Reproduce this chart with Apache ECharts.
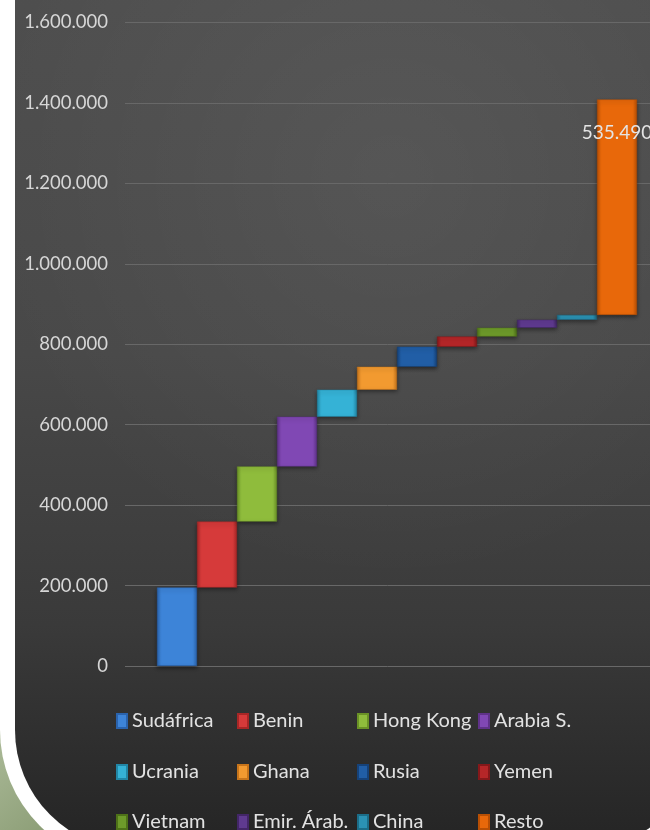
<!DOCTYPE html>
<html>
<head>
<meta charset="utf-8">
<script src="https://cdn.jsdelivr.net/npm/echarts@6/dist/echarts.min.js"></script>
<style>
html,body{margin:0;padding:0;background:#fff;}
#c{width:650px;height:830px;}
</style>
</head>
<body>
<div id="c"></div>
<script>
// ---- data ----
var categories = ['Sudáfrica','Benin','Hong Kong','Arabia S.','Ucrania','Ghana','Rusia','Yemen','Vietnam','Emir. Árab.','China','Resto'];
var values = [195000,164000,137000,124000,67000,57000,50000,25000,22000,20000,12000,535490];
var yTicks = [0,200000,400000,600000,800000,1000000,1200000,1400000,1600000];
var labelledCategory = 'Resto';

// ---- styles ----
var baseColors = ['#3d84d8','#d63a3a','#8fbc3c','#8048b4','#35b2d6','#f29a30','#215ea6','#b52628','#6d9a2a','#5f3a90','#2b92b4','#e8680a'];
var darkColors = ['#2a63ad','#a82626','#6a9226','#5f3289','#2186a6','#c7741a','#15427a','#85181a','#4e7218','#432668','#1b6d88','#b84f04'];

function fmt(v){ return String(v).replace(/\B(?=(\d{3})+(?!\d))/g,'.'); }

var chart = echarts.init(document.getElementById('c'), null, {renderer:'canvas'});

// waterfall base values (sum of preceding contributions)
var bases = [];
var acc = 0;
for (var i=0;i<values.length;i++){ bases.push(acc); acc += values[i]; }

var series = [{
  name:'base', type:'bar', stack:'w', xAxisIndex:1, yAxisIndex:1,
  data: bases, itemStyle:{color:'rgba(0,0,0,0)'}, silent:true,
  barCategoryGap:'0%', emphasis:{disabled:true}
}];
categories.forEach(function(name,i){
  series.push({
    name:name, type:'bar', stack:'w', xAxisIndex:1, yAxisIndex:1,
    barCategoryGap:'0%',
    data: categories.map(function(c,j){ return j===i ? values[i] : '-'; }),
    itemStyle:{
      color: new echarts.graphic.LinearGradient(0,0,1,0,[
        {offset:0,color:darkColors[i]},
        {offset:0.1,color:baseColors[i]},
        {offset:0.9,color:baseColors[i]},
        {offset:1,color:darkColors[i]}
      ]),
      borderColor: darkColors[i], borderWidth:0.5,
      shadowBlur:4, shadowColor:'rgba(0,0,0,0.45)', shadowOffsetY:2
    },
    label:{
      show: name===labelledCategory, position:'insideTop', distance:24,
      color:'#e4e4e4', fontFamily:'Lato', fontSize:19,
      formatter:function(p){ return fmt(p.value); }
    },
    emphasis:{disabled:true}
  });
});

var legendCols = [116,237,357,478];
var legendRows = [711,762,812];
var legends = categories.map(function(name,i){
  return {
    data:[name], left: legendCols[i%4], top: legendRows[Math.floor(i/4)],
    padding:0, icon:'rect', itemWidth:10, itemHeight:14,
    textStyle:{color:'#e2e2e2', fontFamily:'Lato', fontSize:20},
    selectedMode:false
  };
});

var option = {
  backgroundColor:'#9aab86',
  animation:false,
  graphic:[
    {type:'rect', z:-100, shape:{x:0,y:690,width:120,height:140},
      style:{fill:new echarts.graphic.LinearGradient(0,0,1,1,[{offset:0,color:'#b4c2a2'},{offset:1,color:'#7f9268'}])}},
    {type:'rect', z:-99, shape:{x:0,y:-50,width:715,height:915,r:[0,0,135,135]}, style:{fill:'#ffffff'}},
    {type:'rect', z:-98, shape:{x:15,y:-50,width:685,height:900,r:[0,0,120,120]},
      style:{fill:new echarts.graphic.LinearGradient(0,0,0,1,[
        {offset:0,color:'#4f4f4f'},{offset:0.45,color:'#484848'},{offset:0.75,color:'#3a3a3a'},{offset:1,color:'#242424'}])}},
    {type:'rect', z:-97, shape:{x:15,y:-50,width:685,height:900,r:[0,0,120,120]},
      style:{fill:new echarts.graphic.RadialGradient(0.55,0.25,0.6,[
        {offset:0,color:'rgba(255,255,255,0.06)'},{offset:1,color:'rgba(255,255,255,0)'}])}}
  ],
  grid:[
    {left:125, right:0, top:22.5, bottom:164},
    {left:157, right:13, top:22.5, bottom:164}
  ],
  xAxis:[
    {type:'category', gridIndex:0, data:categories, show:false},
    {type:'category', gridIndex:1, data:categories, show:false}
  ],
  yAxis:[
    {type:'value', gridIndex:0, min:0, max:1600000, interval:200000,
      axisLine:{show:false}, axisTick:{show:false},
      splitLine:{lineStyle:{color:'#686868', width:1}},
      axisLabel:{color:'#d6d6d6', fontFamily:'Lato', fontSize:18.5, margin:17,
        formatter:function(v){ return yTicks.indexOf(v)>=0 ? fmt(v) : ''; }}},
    {type:'value', gridIndex:1, min:0, max:1600000, interval:200000, show:false, splitLine:{show:false}}
  ],
  legend: legends,
  series: series
};
chart.setOption(option);
</script>
</body>
</html>
